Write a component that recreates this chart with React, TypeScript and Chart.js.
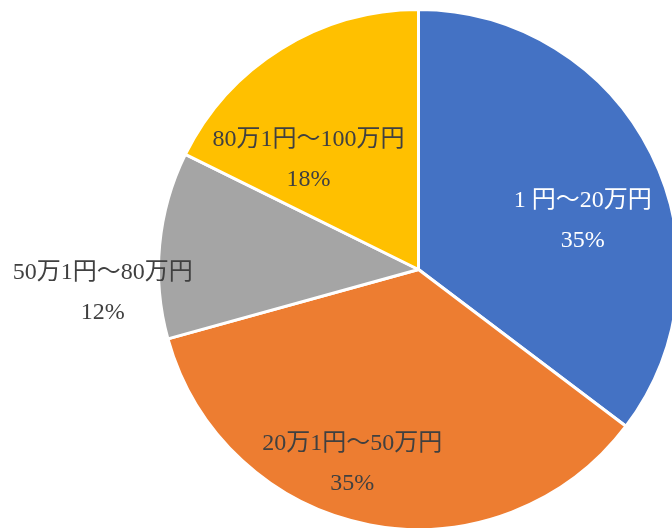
import React, { useEffect, useRef } from "react";
import { Chart, registerables } from "chart.js";

Chart.register(...registerables);

const categories = ["1 円～20万円", "20万1円～50万円", "50万1円～80万円", "80万1円～100万円"];
const values = [35.3, 35.4, 11.6, 17.7];
const colors = ["#4472C4", "#ED7D31", "#A5A5A5", "#FFC000"];
const labelColors = ["#FFFFFF", "#404040", "#404040", "#404040"];

// label centre offsets relative to the pie centre, in units of the pie radius
const labelPlacement = [
  [0.628, -0.186],
  [-0.253, 0.741],
  [-1.207, 0.09],
  [-0.421, -0.42],
];

const labelPlugin = {
  id: "pieLabels",
  afterDatasetsDraw(chart: any) {
    const ctx = chart.ctx;
    const meta = chart.getDatasetMeta(0);
    const data = chart.data.datasets[0].data as number[];
    const total = data.reduce((a, b) => a + b, 0);
    ctx.save();
    ctx.font = '24px "Liberation Serif", "Noto Sans CJK JP", serif';
    ctx.textAlign = "center";
    ctx.textBaseline = "middle";
    meta.data.forEach((arc: any, i: number) => {
      const R = arc.outerRadius + (chart.data.datasets[0].borderWidth || 0) / 2;
      const x = arc.x + labelPlacement[i][0] * R;
      const y = arc.y + labelPlacement[i][1] * R;
      ctx.fillStyle = labelColors[i];
      ctx.fillText(chart.data.labels[i], x, y - 20);
      ctx.fillText(Math.round((data[i] / total) * 100) + "%", x, y + 20);
    });
    ctx.restore();
  },
};

export default function App() {
  const ref = useRef<HTMLCanvasElement>(null);
  useEffect(() => {
    if (!ref.current) return;
    const chart = new Chart(ref.current, {
      type: "pie",
      data: {
        labels: categories,
        datasets: [
          {
            data: values,
            backgroundColor: colors,
            borderColor: "#FFFFFF",
            borderWidth: 3,
          },
        ],
      },
      options: {
        animation: false,
        responsive: false,
        maintainAspectRatio: false,
        events: [],
        layout: { padding: { left: 157, right: 20, top: 8, bottom: 9 } },
        plugins: {
          legend: { display: false },
          tooltip: { enabled: false },
        },
      },
      plugins: [labelPlugin],
    });
    return () => chart.destroy();
  }, []);
  return (
    <div
      style={{
        position: "absolute",
        left: 0,
        top: 0,
        width: 672,
        height: 528,
        overflow: "hidden",
        background: "#FFFFFF",
      }}
    >
      <canvas ref={ref} width={700} height={540} style={{ width: 700, height: 540, display: "block" }} />
    </div>
  );
}
